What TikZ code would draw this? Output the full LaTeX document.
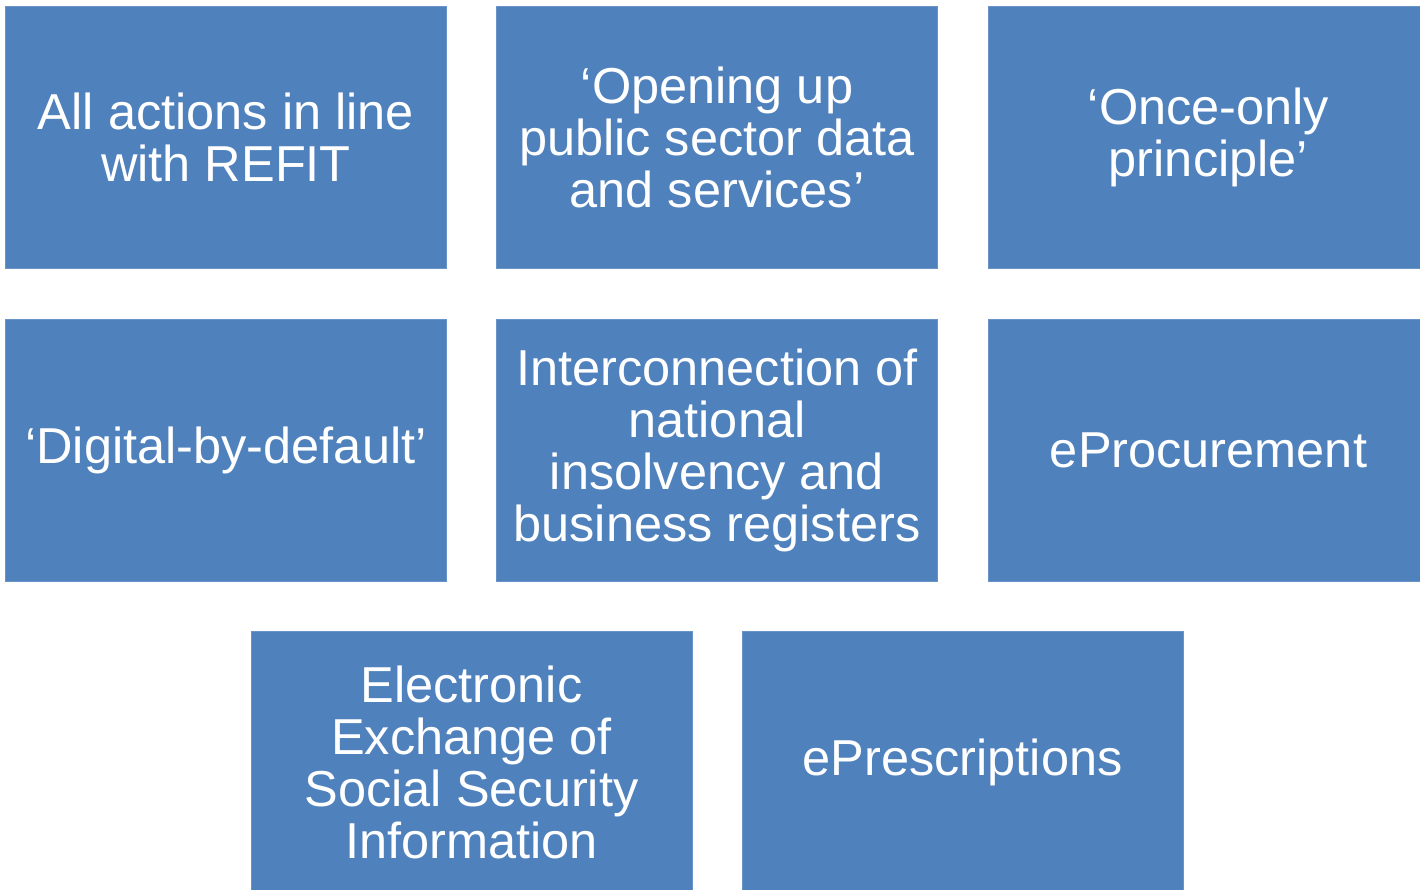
\documentclass[tikz,border=0pt]{standalone}
\usepackage{fontspec}
\setmainfont{Liberation Sans}
\usepackage{tikz}
\usetikzlibrary{positioning}
\definecolor{boxblue}{HTML}{4F81BD}

\begin{document}
\begin{tikzpicture}[x=1pt, y=1pt]
   \useasboundingbox (0,0) rectangle (1420,-889);
   \begin{scope}[every node/.style={rectangle,fill=boxblue,draw=boxblue!85!white,text=white,
       minimum width=441pt,minimum height=262pt,inner sep=0pt,align=center,
       font=\fontsize{50.5}{52}\selectfont}]
    \node (b1) at (226,-137) {All actions in line\\with REFIT};
    \node (b2) at (717,-137) {‘Opening up\\public sector data\\and services’};
    \node (b3) at (1208.5,-137) {‘Once-only\\principle’};
    \node (b4) at (226,-450.5) {‘Digital-by-default’};
    \node (b5) at (717,-450.5) {Interconnection of\\national\\insolvency and\\business registers};
    \node (b6) at (1208.5,-450.5) {eProcurement};
    \node (b7) at (471.5,-762.5) {Electronic\\Exchange of\\Social Security\\Information};
    \node (b8) at (962.5,-762.5) {ePrescriptions};
   \end{scope}
\end{tikzpicture}
\end{document}
